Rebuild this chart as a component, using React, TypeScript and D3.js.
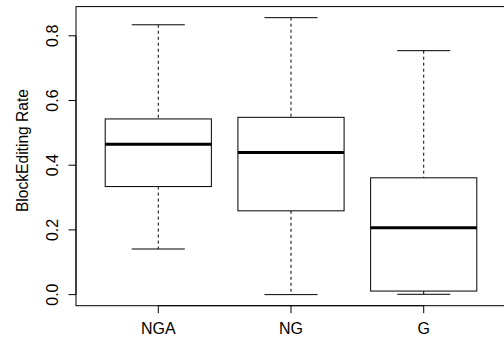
import React from "react";
import * as d3 from "d3";

// R-style boxplot stats
const groups = ["NGA", "NG", "G"];
const lowerWhisker = [0.141, 0.0, 0.001];
const lowerHinge = [0.334, 0.259, 0.011];
const medians = [0.465, 0.439, 0.207];
const upperHinge = [0.543, 0.548, 0.361];
const upperWhisker = [0.834, 0.856, 0.754];
const yTicks = [0, 0.2, 0.4, 0.6, 0.8];
const yTitle = "BlockEditing Rate";

const W = 504;
const H = 340;
const plot = { left: 76, right: 506, top: 6.6, bottom: 305.7 };

const App = () => {
  // R pads the range by 4% on each side
  const lo = d3.min(lowerWhisker) as number;
  const hi = d3.max(upperWhisker) as number;
  const pad = (hi - lo) * 0.04;
  const y = d3.scaleLinear().domain([lo - pad, hi + pad]).range([plot.bottom, plot.top]);
  const x = d3.scaleLinear().domain([0.38, groups.length + 0.62]).range([plot.left, plot.right]);
  const unit = x(2) - x(1);
  const boxW = unit * 0.8;
  const capW = boxW * 0.5;
  const font = "'Liberation Sans', Arial, Helvetica, sans-serif";
  const tick = 7.5;

  return (
    <svg width={W} height={H} style={{ position: "absolute", left: 0, top: 0 }}>
      <rect width={W} height={H} fill="#fff" />
      {groups.map((g, i) => {
        const cx = x(i + 1);
        return (
          <g key={g} stroke="#000" fill="none">
            <line x1={cx} x2={cx} y1={y(upperWhisker[i])} y2={y(upperHinge[i])} strokeDasharray="3,3" />
            <line x1={cx} x2={cx} y1={y(lowerHinge[i])} y2={y(lowerWhisker[i])} strokeDasharray="3,3" />
            <line x1={cx - capW / 2} x2={cx + capW / 2} y1={y(upperWhisker[i])} y2={y(upperWhisker[i])} />
            <line x1={cx - capW / 2} x2={cx + capW / 2} y1={y(lowerWhisker[i])} y2={y(lowerWhisker[i])} />
            <rect
              x={cx - boxW / 2}
              y={y(upperHinge[i])}
              width={boxW}
              height={y(lowerHinge[i]) - y(upperHinge[i])}
            />
            <line x1={cx - boxW / 2} x2={cx + boxW / 2} y1={y(medians[i])} y2={y(medians[i])} strokeWidth={3} />
          </g>
        );
      })}
      <rect
        x={plot.left}
        y={plot.top}
        width={plot.right - plot.left}
        height={plot.bottom - plot.top}
        fill="none"
        stroke="#000"
      />
      {/* y axis */}
      <g stroke="#000">
        <line x1={plot.left} x2={plot.left} y1={y(yTicks[0])} y2={y(yTicks[yTicks.length - 1])} />
        {yTicks.map((t) => (
          <line key={t} x1={plot.left - tick} x2={plot.left} y1={y(t)} y2={y(t)} />
        ))}
      </g>
      {yTicks.map((t) => (
        <text
          key={t}
          transform={`translate(${plot.left - 18},${y(t)}) rotate(-90)`}
          textAnchor="middle"
          fontFamily={font}
          fontSize={16}
          fill="#000"
        >
          {d3.format(".1f")(t)}
        </text>
      ))}
      <text
        transform={`translate(28,150.5) rotate(-90)`}
        textAnchor="middle"
        fontFamily={font}
        fontSize={15.6}
        fill="#000"
      >
        {yTitle}
      </text>
      {/* x axis */}
      <g stroke="#000">
        <line x1={x(1)} x2={x(groups.length)} y1={plot.bottom} y2={plot.bottom} />
        {groups.map((g, i) => (
          <line key={g} x1={x(i + 1)} x2={x(i + 1)} y1={plot.bottom} y2={plot.bottom + tick} />
        ))}
      </g>
      {groups.map((g, i) => (
        <text key={g} x={x(i + 1)} y={334} textAnchor="middle" fontFamily={font} fontSize={16} fill="#000">
          {g}
        </text>
      ))}
    </svg>
  );
};

export default App;
